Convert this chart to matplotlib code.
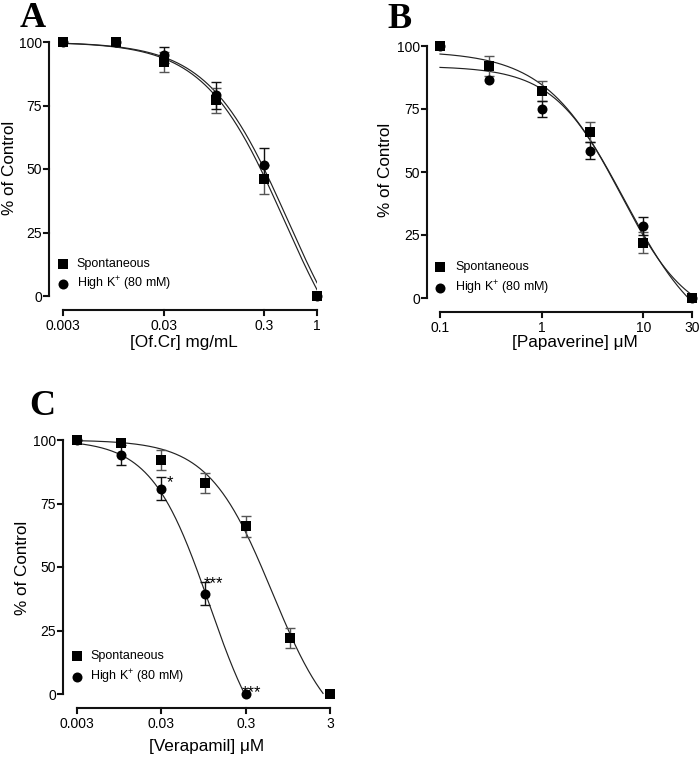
import numpy as np
import matplotlib
matplotlib.use("Agg")
import matplotlib.pyplot as plt
from matplotlib.patches import Rectangle

plt.rcParams['font.family'] = ['Liberation Sans', 'DejaVu Sans']
plt.rcParams['mathtext.fontset'] = 'custom'
plt.rcParams['mathtext.rm'] = 'Liberation Sans'
plt.rcParams['mathtext.it'] = 'Liberation Sans:italic'
plt.rcParams['mathtext.bf'] = 'Liberation Sans:bold'

# ---------------- data ----------------
# Panel A: Of.Cr (mg/mL)
a_x = [0.003, 0.01, 0.03, 0.1, 0.3, 1.0]
a_spont = [100, 100, 92, 77, 46, 0]
a_spont_err = [0, 0, 4, 5, 5.7, 0]
a_highk = [100, 100, 95, 79, 51.6, 0]
a_highk_err = [0, 0, 3.2, 5.2, 6.5, 0]
a_ticks = [0.003, 0.03, 0.3, 1]
a_ticklabels = ["0.003", "0.03", "0.3", "1"]
# fitted curve parameters (top, bottom, EC50, Hill slope)
a_fit_spont = (100, -40, 0.47, 1.1)
a_fit_highk = (100, -40, 0.51, 1.1)

# Panel B: Papaverine (uM)
b_x = [0.1, 0.3, 1, 3, 10, 30]
b_spont = [100, 92, 82, 66, 22, 0]
b_spont_err = [0, 4, 4, 4, 4, 0]
b_highk = [100, 86.4, 75, 58.5, 28.6, 0]
b_highk_err = [0, 0, 3, 3.5, 3.5, 0]
b_ticks = [0.1, 1, 10, 30]
b_ticklabels = ["0.1", "1", "10", "30"]
b_fit_spont = (98, -20, 6.5, 1.1)
b_fit_highk = (92, -10, 6.0, 1.3)

# Panel C: Verapamil (uM)
c_x_spont = [0.003, 0.01, 0.03, 0.1, 0.3, 1, 3]
c_spont = [100, 99, 92, 83, 66, 22, 0]
c_spont_err = [0, 0, 4, 4, 4, 4, 0]
c_x_highk = [0.003, 0.01, 0.03, 0.1, 0.3]
c_highk = [100, 94, 80.8, 39.4, 0]
c_highk_err = [0, 4, 4.5, 4.5, 0]
c_sig = ["", "", "*", "***", "***"]
c_ticks = [0.003, 0.03, 0.3, 3]
c_ticklabels = ["0.003", "0.03", "0.3", "3"]
c_fit_spont = (100, -20, 0.62, 1.15)
c_fit_highk = (100, -30, 0.112, 1.26)

y_ticks = [0, 25, 50, 75, 100]
labels = ["Spontaneous", r"High $\mathrm{K}^{+}$ (80 mM)"]

# ---------------- figure ----------------
W, H = 700, 758
DPI = 100
TICK_PX = 5
MARGIN_PX = 7
AX_LW = 1.5
AX_COLOR = '#111111'
fig = plt.figure(figsize=(W / DPI, H / DPI), dpi=DPI)


def ax_px(ax, px, py):
    """convert figure pixel (from top-left) to axes fraction"""
    bb = ax.get_position()
    return ((px / W - bb.x0) / bb.width, ((1 - py / H) - bb.y0) / bb.height)


def add_bar_px(ax, xa, xb, ytop, ybot):
    """filled bar between figure pixels (xa..xb, ytop..ybot) for axis lines"""
    x0f, y0f = ax_px(ax, xa, ybot)
    x1f, y1f = ax_px(ax, xb, ytop)
    ax.add_patch(Rectangle((x0f, y0f), x1f - x0f, y1f - y0f,
                           transform=ax.transAxes, facecolor=AX_COLOR,
                           edgecolor='none', lw=0, clip_on=False, zorder=5))


def make_axes(spine_x, x0, x1, y_top, y0, spine_y, xlim, ticks, ticklabels):
    """spine_x: pixel column of y-axis line; x0/x1: pixels of the x range ends;
    y_top: pixel of y=100; y0: pixel of y=0; spine_y: pixel row of x-axis line."""
    left_px = spine_x - MARGIN_PX
    bot_px = spine_y + MARGIN_PX
    ax = fig.add_axes([left_px / W, 1 - bot_px / H,
                       (x1 - left_px) / W, (bot_px - y_top) / H])
    ax.set_xscale('log')
    lo, hi = np.log10(xlim[0]), np.log10(xlim[1])
    ppd = (x1 - x0) / (hi - lo)
    ppu = (y0 - y_top) / 100.0
    ax.set_xlim(10 ** (lo - (x0 - left_px) / ppd), xlim[1])
    ax.set_ylim(-(bot_px - y0) / ppu, 100)

    ax.set_xticks(ticks)
    ax.set_xticklabels(ticklabels)
    ax.xaxis.set_minor_locator(matplotlib.ticker.NullLocator())
    ax.set_yticks(y_ticks)
    for s in ax.spines.values():
        s.set_visible(False)
    ax.tick_params(axis='both', which='major', length=0, labelcolor='black',
                   labelsize=10)
    ax.tick_params(axis='y', pad=0.1)
    ax.tick_params(axis='x', pad=1.2)
    ax.patch.set_alpha(0)

    # axis lines and tick marks (GraphPad style, detached axes)
    x_sp = 10 ** (lo - (x0 - spine_x) / ppd)
    x_tk = 10 ** (lo - (x0 - spine_x + TICK_PX) / ppd)
    y_sp = -(spine_y - y0) / ppu
    y_tk = y_sp - TICK_PX / ppu
    kw = dict(colors=AX_COLOR, lw=AX_LW, clip_on=False, zorder=5,
              capstyle='projecting')
    ax.vlines([x_sp], [0], [100], **kw)
    ax.hlines(y_ticks, x_tk, x_sp, **kw)
    ax.hlines([y_sp], [xlim[0]], [xlim[1]], **kw)
    ax.vlines(ticks, y_tk, y_sp, **kw)

    # same axis lines as filled bars
    hw = 1.0
    add_bar_px(ax, spine_x - hw, spine_x + hw, y_top - hw, y0 + hw)
    add_bar_px(ax, x0 - hw, x1 + hw, spine_y - hw, spine_y + hw)
    for yv in y_ticks:
        py = y0 - yv * ppu
        add_bar_px(ax, spine_x - TICK_PX, spine_x, py - hw, py + hw)
    for xv in ticks:
        px = x0 + (np.log10(xv) - lo) * ppd
        add_bar_px(ax, px - hw, px + hw, spine_y, spine_y + TICK_PX)
    return ax


def hill(x, p):
    top, bottom, ec50, h = p
    return bottom + (top - bottom) / (1 + (x / ec50) ** h)


def draw_series(ax, x, y, err, marker, ecolor, ms):
    x = np.asarray(x, float)
    y = np.asarray(y, float)
    err = np.asarray(err, float)
    m = err > 0
    if m.any():
        cont = ax.errorbar(x[m], y[m], yerr=err[m], fmt='none', ecolor=ecolor,
                           elinewidth=1.0, capsize=3.6, capthick=1.0, zorder=3)
        for art in cont.get_children():
            art.set_clip_on(False)
    ax.plot(x, y, linestyle='none', marker=marker, ms=ms, color='black',
            markeredgewidth=0, clip_on=False, zorder=4)


def draw_curve(ax, xmin, xmax, p):
    xs = np.logspace(np.log10(xmin), np.log10(xmax), 400)
    ys = hill(xs, p)
    ys = np.where(ys < 0, np.nan, ys)
    ax.plot(xs, ys, color='#222222', lw=0.85, zorder=2)


def draw_legend(ax, mx, my1, my2, tx):
    ax.plot([mx], [my1], 's', ms=6.8, color='black', mew=0, clip_on=False)
    ax.plot([mx], [my2], 'o', ms=7.2, color='black', mew=0, clip_on=False)
    ax.text(tx, my1, labels[0], fontsize=9, va='center', ha='left')
    ax.text(tx, my2, labels[1], fontsize=9, va='center', ha='left')


def set_labels(ax, xlabel, xl_xy, yl_xy):
    ax.set_xlabel(xlabel, fontsize=12.3)
    ax.xaxis.set_label_coords(*xl_xy)
    ax.set_ylabel("% of Control", fontsize=12.3)
    ax.yaxis.set_label_coords(*yl_xy)
    ax.yaxis.label.set_verticalalignment('center')


# ----- Panel A -----
axA = make_axes(49, 63, 317, 42, 296, 310, (0.003, 1), a_ticks, a_ticklabels)
draw_curve(axA, 0.003, 1, a_fit_spont)
draw_curve(axA, 0.003, 1, a_fit_highk)
draw_series(axA, a_x, a_spont, a_spont_err, 's', '#555555', 6.8)
draw_series(axA, a_x, a_highk, a_highk_err, 'o', '#111111', 7.2)
draw_legend(axA, 0.003, 12.6, 4.7, 0.0041)
set_labels(axA, "[Of.Cr] mg/mL", ax_px(axA, 184, 335), ax_px(axA, 10, 168))

# ----- Panel B -----
axB = make_axes(427, 440, 692, 46, 298, 312, (0.1, 30), b_ticks, b_ticklabels)
draw_curve(axB, 0.1, 30, b_fit_spont)
draw_curve(axB, 0.1, 30, b_fit_highk)
draw_series(axB, b_x, b_spont, b_spont_err, 's', '#555555', 6.8)
draw_series(axB, b_x, b_highk, b_highk_err, 'o', '#111111', 7.2)
draw_legend(axB, 0.1, 12.3, 4.0, 0.141)
set_labels(axB, "[Papaverine] \u03bcM", ax_px(axB, 575, 335), ax_px(axB, 385, 170))

# ----- Panel C -----
axC = make_axes(63, 77, 330, 440, 694, 708, (0.003, 3), c_ticks, c_ticklabels)
draw_curve(axC, 0.003, 3, c_fit_spont)
draw_curve(axC, 0.003, 0.3, c_fit_highk)
draw_series(axC, c_x_spont, c_spont, c_spont_err, 's', '#555555', 6.8)
draw_series(axC, c_x_highk, c_highk, c_highk_err, 'o', '#111111', 7.2)
draw_legend(axC, 0.003, 15.0, 6.7, 0.0043)
set_labels(axC, "[Verapamil] \u03bcM", ax_px(axC, 207, 739), ax_px(axC, 23, 568))

for xi, yi, s in zip(c_x_highk, c_highk, c_sig):
    if not s:
        continue
    off = (8, 6) if yi > 0 else (5.5, -3)
    if s == "*":
        off = (9, 2)
    axC.annotate(s, xy=(xi, yi), xytext=off, textcoords='offset pixels',
                 fontsize=12, ha='center', va='baseline', annotation_clip=False)

# Panel letters
for letter, (px, py) in zip("ABC", [(20, 27), (387, 28), (29, 415)]):
    fig.text(px / W, 1 - py / H, letter, fontsize=26, fontweight='bold',
             family=['Liberation Serif', 'DejaVu Serif'], ha='left', va='baseline')

fig.savefig("out.png", dpi=DPI)
